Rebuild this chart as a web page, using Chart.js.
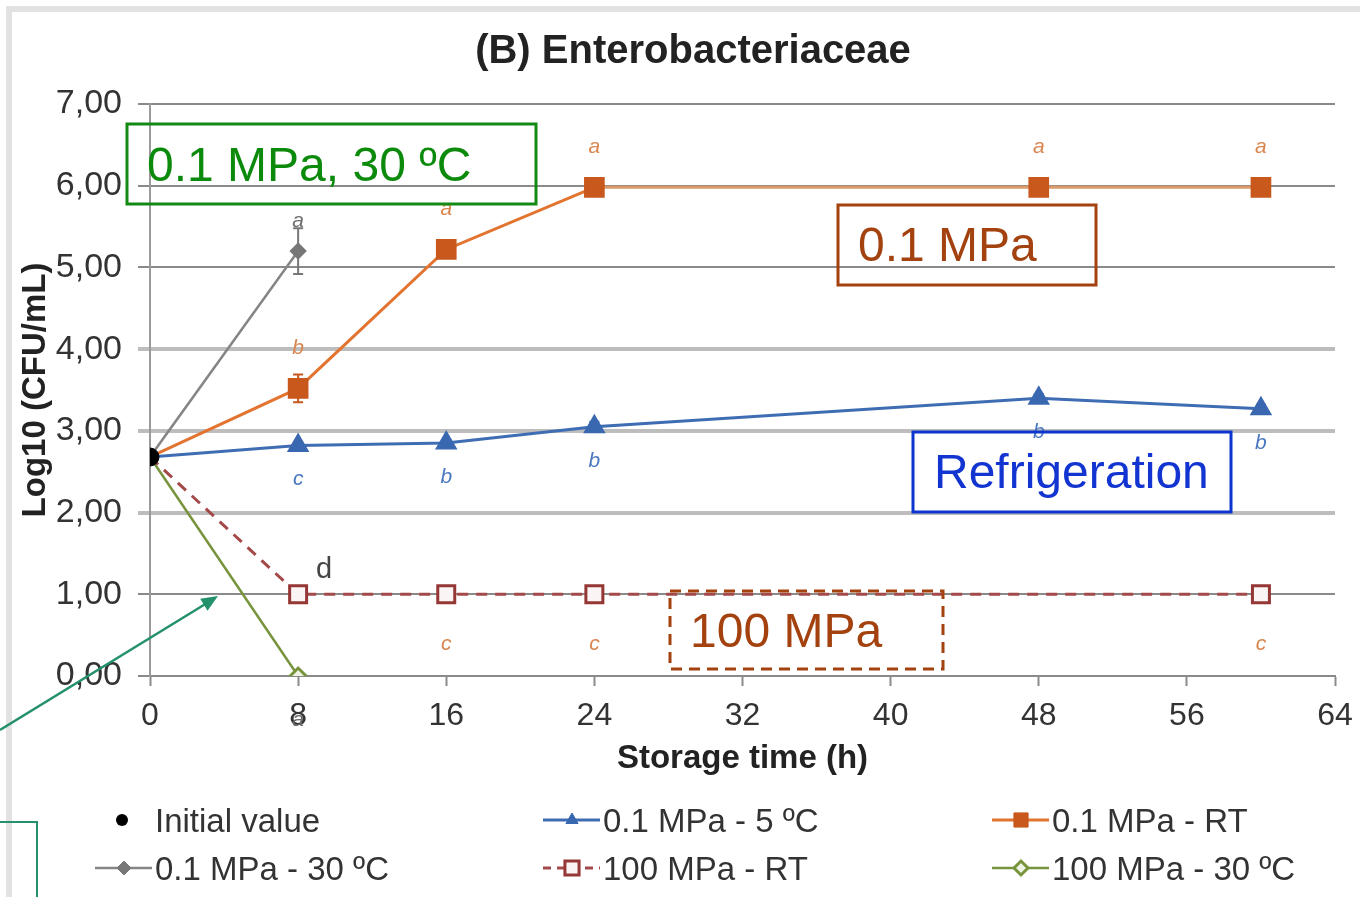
<!DOCTYPE html>
<html>
<head>
<meta charset="utf-8">
<script src="https://cdn.jsdelivr.net/npm/chart.js@4.4.0/dist/chart.umd.min.js"></script>
<style>
html, body { margin: 0; padding: 0; background: #fff; }
#chart { display: block; }
</style>
</head>
<body>
<canvas id="chart" width="1360" height="897"></canvas>
<script>
// storage time (h)
const hours = [0, 8, 16, 24, 48, 60];
const hoursShort = [0, 8];
const initialValue = [2.68];

// Log10 (CFU/mL)
const mpa01Cold = [2.68, 2.82, 2.85, 3.05, 3.40, 3.27];
const mpa01RT = [2.68, 3.52, 5.22, 5.98, 5.98, 5.98];
const mpa01Warm = [2.68, 5.20];
const mpa100RT = [2.68, 1.00, 1.00, 1.00, null, 1.00];
const mpa100Warm = [2.68, 0.00];

// error bars
const errCold = [0, 0.04, 0.04, 0.06, 0.05, 0.05];
const errRT = [0, 0.17, 0.05, 0.03, 0.03, 0.03];
const errWarm = [0, 0.28];

// significance letters
const lettersCold = ['', 'c', 'b', 'b', 'b', 'b'];
const lettersRT = ['', 'b', 'a', 'a', 'a', 'a'];
const lettersWarm = ['', 'a'];
const letters100RT = ['', 'd', 'c', 'c', '', 'c'];
const letters100Warm = ['', 'a'];

const yTicks = [0, 1, 2, 3, 4, 5, 6, 7];
const xTicks = [0, 8, 16, 24, 32, 40, 48, 56, 64];

const FONT = '"Liberation Sans", Arial, sans-serif';
const pts = (xs, ys) => xs.map((x, i) => ({ x: x, y: ys[i] }));
const fmt = v => v.toFixed(2).replace('.', ',');
const noFirst = (n, r) => Array.from({ length: n }, (_, i) => i === 0 ? 0 : r);

const datasets = [
  { label: 'Initial value', data: pts([0], initialValue), showLine: false,
    pointStyle: 'circle', pointRadius: 9, backgroundColor: '#000', borderColor: '#000', borderWidth: 1 },
  { label: '0.1 MPa - 5 ºC', data: pts(hours, mpa01Cold), borderColor: '#3f6db3', borderWidth: 3,
    pointStyle: 'triangle', pointRadius: noFirst(6, 10), backgroundColor: '#3a68b0', pointBorderColor: '#3a68b0',
    err: errCold, letters: lettersCold, letterDy: 34, letterColor: '#4a78c0' },
  { label: '0.1 MPa - RT', data: pts(hours, mpa01RT), borderColor: '#e2742f', borderWidth: 3,
    segment: { borderColor: c => c.p0.parsed.x >= 24 ? '#dc9a68' : undefined },
    pointStyle: 'rect', pointRadius: noFirst(6, 12.5), backgroundColor: '#c9581c', pointBorderColor: '#c9581c',
    err: errRT, letters: lettersRT, letterDy: -40, letterColor: '#da8650' },
  { label: '0.1 MPa - 30 ºC', data: pts(hoursShort, mpa01Warm), borderColor: '#858585', borderWidth: 2.5,
    pointStyle: 'rectRot', pointRadius: noFirst(2, 7), backgroundColor: '#777', pointBorderColor: '#777',
    err: errWarm, letters: lettersWarm, letterDy: -30, letterColor: '#707070' },
  { label: '100 MPa - RT', data: pts(hours, mpa100RT), spanGaps: true, borderColor: '#a3494a', borderWidth: 3,
    borderDash: [11, 8], pointStyle: 'rect', pointRadius: noFirst(6, 12), backgroundColor: '#fbf4f4',
    pointBorderColor: '#953735', pointBorderWidth: 3,
    letters: letters100RT, letterDy: 50, letterColor: '#da8650' },
  { label: '100 MPa - 30 ºC', data: pts(hoursShort, mpa100Warm), borderColor: '#77933c', borderWidth: 2.5,
    pointStyle: 'rectRot', pointRadius: noFirst(2, 8), backgroundColor: '#eef3e4', pointBorderColor: '#77933c',
    pointBorderWidth: 3, letters: letters100Warm, letterDy: 44, letterColor: '#666' }
];

const pageBg = {
  id: 'pageBg',
  beforeDraw(chart) {
    const { ctx, width, height } = chart;
    ctx.save();
    ctx.fillStyle = '#fff';
    ctx.fillRect(0, 0, width, height);
    ctx.strokeStyle = '#e2e2e2';
    ctx.lineWidth = 6;
    ctx.strokeRect(9, 9, width + 20, height + 20);
    ctx.fillStyle = '#222';
    ctx.font = 'bold 40px ' + FONT;
    ctx.textAlign = 'center';
    ctx.textBaseline = 'middle';
    ctx.fillText('(B) Enterobacteriaceae', 693, 52);
    ctx.restore();
  }
};

const errorBars = {
  id: 'errorBars',
  beforeDatasetsDraw(chart) {
    const { ctx } = chart;
    const ys = chart.scales.y;
    ctx.save();
    chart.data.datasets.forEach((ds, di) => {
      if (!ds.err) return;
      chart.getDatasetMeta(di).data.forEach((p, i) => {
        const e = ds.err[i];
        if (!e) return;
        const v = ds.data[i].y;
        const top = ys.getPixelForValue(v + e), bot = ys.getPixelForValue(v - e);
        ctx.strokeStyle = ds.pointBorderColor;
        ctx.lineWidth = 2;
        ctx.beginPath();
        ctx.moveTo(p.x, top); ctx.lineTo(p.x, bot);
        ctx.moveTo(p.x - 5, top); ctx.lineTo(p.x + 5, top);
        ctx.moveTo(p.x - 5, bot); ctx.lineTo(p.x + 5, bot);
        ctx.stroke();
      });
    });
    ctx.restore();
  }
};

function box(ctx, x, y, w, h, color, dash) {
  ctx.save();
  ctx.strokeStyle = color;
  ctx.lineWidth = 3;
  if (dash) ctx.setLineDash(dash);
  ctx.strokeRect(x, y, w, h);
  ctx.restore();
}

function label(ctx, text, x, y, color, font) {
  ctx.fillStyle = color;
  ctx.font = font;
  ctx.textAlign = 'left';
  ctx.textBaseline = 'alphabetic';
  ctx.fillText(text, x, y);
}

const notes = {
  id: 'notes',
  afterDraw(chart) {
    const { ctx } = chart;
    ctx.save();

    // significance letters
    chart.data.datasets.forEach((ds, di) => {
      if (!ds.letters) return;
      chart.getDatasetMeta(di).data.forEach((p, i) => {
        const t = ds.letters[i];
        if (!t || p.skip) return;
        ctx.textAlign = 'center';
        ctx.textBaseline = 'middle';
        if (t === 'd') {
          ctx.fillStyle = '#444';
          ctx.font = '29px ' + FONT;
          ctx.fillText(t, p.x + 26, p.y - 24);
        } else {
          ctx.fillStyle = ds.letterColor;
          ctx.font = 'italic 21px ' + FONT;
          ctx.fillText(t, p.x, p.y + ds.letterDy);
        }
      });
    });

    // boxes
    const big = '48px ' + FONT;
    box(ctx, 127, 124, 409, 80, '#138a13');
    label(ctx, '0.1 MPa, 30 ºC', 147, 181, '#0c8a0c', big);
    box(ctx, 838, 205, 258, 80, '#a3410f');
    label(ctx, '0.1 MPa', 858, 261, '#a3410f', big);
    box(ctx, 913, 432, 318, 80, '#0b35cc');
    label(ctx, 'Refrigeration', 934, 488, '#1234d0', big);
    box(ctx, 670, 591, 273, 78, '#a3410f', [11, 7]);
    label(ctx, '100 MPa', 690, 647, '#a3410f', big);

    // arrow + leader line
    ctx.strokeStyle = '#24916a';
    ctx.fillStyle = '#24916a';
    ctx.lineWidth = 2.5;
    ctx.beginPath();
    ctx.moveTo(0, 730); ctx.lineTo(207, 603);
    ctx.stroke();
    const ang = Math.atan2(597 - 730, 217 - 0);
    ctx.beginPath();
    ctx.moveTo(218, 596);
    ctx.lineTo(218 - 18 * Math.cos(ang - 0.4), 596 - 18 * Math.sin(ang - 0.4));
    ctx.lineTo(218 - 18 * Math.cos(ang + 0.4), 596 - 18 * Math.sin(ang + 0.4));
    ctx.closePath();
    ctx.fill();
    ctx.lineWidth = 2;
    ctx.beginPath();
    ctx.moveTo(0, 822); ctx.lineTo(37, 822); ctx.lineTo(37, 897);
    ctx.stroke();

    // legend
    const cols = [155, 603, 1052], rows = [820, 868];
    chart.data.datasets.forEach((ds, di) => {
      const tx = cols[di % 3], ty = rows[Math.floor(di / 3)];
      if (di === 0) {
        ctx.fillStyle = '#000';
        ctx.beginPath(); ctx.arc(tx - 33, ty, 6, 0, Math.PI * 2); ctx.fill();
      } else {
        ctx.save();
        ctx.strokeStyle = ds.borderColor;
        ctx.lineWidth = ds.borderWidth;
        if (ds.borderDash) ctx.setLineDash([8, 6]);
        ctx.beginPath(); ctx.moveTo(tx - 60, ty); ctx.lineTo(tx - 3, ty); ctx.stroke();
        ctx.restore();
        ctx.save();
        ctx.fillStyle = ds.backgroundColor;
        ctx.strokeStyle = ds.pointBorderColor;
        ctx.lineWidth = ds.pointBorderWidth || 1;
        Chart.helpers.drawPoint(ctx, { pointStyle: ds.pointStyle, radius: ds.pointStyle === 'rect' ? 10 : 7, borderWidth: ds.pointBorderWidth || 1 }, tx - 31, ty);
        ctx.restore();
      }
      label(ctx, ds.label, tx, ty + 12, '#333', '33px ' + FONT);
    });
    ctx.restore();
  }
};

new Chart(document.getElementById('chart'), {
  type: 'line',
  data: { datasets: datasets },
  options: {
    responsive: false,
    animation: false,
    layout: { padding: { left: 16, top: 104, right: 25, bottom: 111 } },
    plugins: { legend: { display: false }, tooltip: { enabled: false } },
    scales: {
      x: {
        type: 'linear', min: 0, max: 64,
        afterBuildTicks: s => { s.ticks = xTicks.map(v => ({ value: v })); },
        afterFit: s => { s.height = 110; s.paddingRight = 0; s.paddingLeft = 0; },
        grid: { drawOnChartArea: false, drawTicks: true, tickLength: 10, tickColor: '#8a8a8a', tickWidth: 2 },
        border: { color: '#8a8a8a', width: 2 },
        ticks: { color: '#333', padding: 11, font: { size: 32, family: FONT } },
        title: { display: true, text: 'Storage time (h)', color: '#222', padding: { top: 7, bottom: 7 },
          font: { size: 33, weight: 'bold', family: FONT } }
      },
      y: {
        min: 0, max: 7,
        afterBuildTicks: s => { s.ticks = yTicks.map(v => ({ value: v })); },
        afterFit: s => { s.width = 134; },
        grid: {
          color: c => [2, 3, 4].includes(c.tick.value) ? '#bdbdbd' : '#8a8a8a',
          lineWidth: c => [2, 3, 4].includes(c.tick.value) ? 4 : 2,
          tickLength: 12
        },
        border: { color: '#9a9a9a', width: 2 },
        ticks: { color: '#333', padding: 16, font: { size: 34, family: FONT }, callback: v => fmt(v) },
        title: { display: true, text: 'Log10 (CFU/mL)', color: '#222', padding: 0,
          font: { size: 33, weight: 'bold', family: FONT } }
      }
    }
  },
  plugins: [pageBg, errorBars, notes]
});
</script>
</body>
</html>
